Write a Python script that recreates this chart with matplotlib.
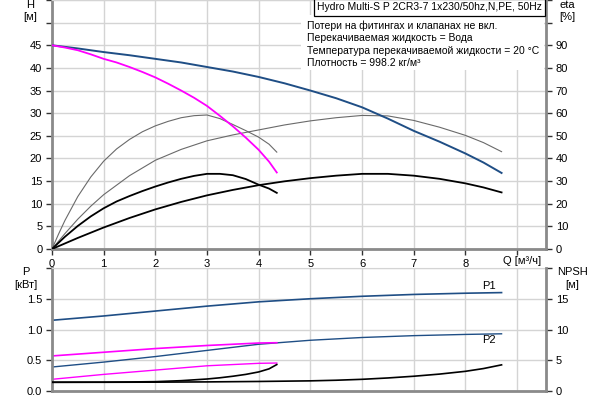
import numpy as np
import matplotlib.pyplot as plt

plt.rcParams['font.family'] = ['Liberation Sans', 'DejaVu Sans']
plt.rcParams['font.size'] = 8

# ---- data ----
# head [m]
q_h_long = [0, 0.5, 1, 1.5, 2, 2.5, 3, 3.5, 4, 4.5, 5, 5.5, 6, 6.5, 7, 7.5, 8, 8.35, 8.7]
h_long = [45, 44.3, 43.5, 42.8, 42.0, 41.2, 40.2, 39.2, 38.0, 36.6, 35.0, 33.3,
          31.3, 28.8, 26.1, 23.7, 21.1, 19.1, 16.8]
q_h_short = [0, 0.25, 0.5, 0.75, 1, 1.25, 1.5, 1.75, 2, 2.25, 2.5, 2.75, 3,
             3.25, 3.5, 3.75, 4, 4.2, 4.35]
h_short = [45, 44.5, 43.9, 43.0, 42.0, 41.2, 40.2, 39.1, 37.9, 36.5, 35.0, 33.4,
           31.6, 29.4, 27.1, 24.6, 21.9, 19.3, 16.9]

# efficiency [%]
q_eta_s = [0, 0.125, 0.25, 0.5, 0.75, 1, 1.25, 1.5, 1.75, 2, 2.25, 2.5, 2.75, 3,
           3.25, 3.5, 3.75, 4, 4.2, 4.35]
eta_short_pump = [0, 6.5, 12.6, 23.2, 31.8, 38.8, 44.2, 48.4, 51.8, 54.4, 56.4,
                  58.0, 58.9, 59.2, 57.6, 55.0, 52.3, 49.4, 46.3, 42.8]
q_eta_l = [0, 0.25, 0.5, 0.75, 1, 1.5, 2, 2.5, 3, 3.5, 4, 4.5, 5, 5.5, 6, 6.5,
           7, 7.5, 8, 8.35, 8.7]
eta_long_pump = [0, 6.8, 13.2, 18.9, 24.0, 32.4, 39.2, 44.0, 47.8, 50.4, 52.6,
                 54.8, 56.6, 58.0, 59.0, 58.8, 56.8, 53.8, 50.2, 47.0, 43.0]
q_eta_st = [0, 0.25, 0.5, 0.75, 1, 1.25, 1.5, 1.75, 2, 2.25, 2.5, 2.75, 3, 3.25,
            3.5, 3.75, 4, 4.2, 4.35]
eta_short_tot = [0, 5.4, 10.2, 14.4, 18.0, 21.0, 23.4, 25.6, 27.6, 29.4, 31.0,
                 32.3, 33.2, 33.2, 32.6, 30.9, 28.4, 26.7, 24.8]
q_eta_lt = [0, 0.5, 1, 1.5, 2, 2.5, 3, 3.5, 4, 4.5, 5, 5.5, 6, 6.5, 7, 7.5, 8,
            8.35, 8.7]
eta_long_tot = [0, 4.9, 9.5, 13.7, 17.5, 20.8, 23.7, 26.1, 28.2, 29.9, 31.3,
                32.4, 33.2, 33.2, 32.4, 31.0, 29.0, 27.2, 25.0]

# power [kW]
q_p = [0, 1, 2, 3, 4, 5, 6, 7, 8, 8.7]
p1_long = [1.15, 1.22, 1.30, 1.38, 1.45, 1.50, 1.54, 1.57, 1.59, 1.60]
p2_long = [0.39, 0.47, 0.56, 0.66, 0.76, 0.825, 0.87, 0.90, 0.92, 0.93]
q_ps = [0, 1, 2, 3, 4, 4.35]
p1_short = [0.57, 0.63, 0.69, 0.74, 0.78, 0.785]
p2_short = [0.19, 0.27, 0.34, 0.41, 0.45, 0.455]

# NPSH [m]
q_npsh_l = [0, 1, 2, 3, 4, 5, 5.5, 6, 6.5, 7, 7.5, 8, 8.35, 8.7]
npsh_long = [1.42, 1.42, 1.44, 1.48, 1.55, 1.65, 1.75, 1.9, 2.12, 2.4, 2.75,
             3.2, 3.65, 4.25]
q_npsh_s = [0, 1, 1.5, 2, 2.5, 3, 3.25, 3.5, 3.75, 4, 4.2, 4.35]
npsh_short = [1.42, 1.44, 1.47, 1.52, 1.68, 1.95, 2.15, 2.4, 2.7, 3.1, 3.6, 4.3]

info_title = 'Hydro Multi-S P 2CR3-7 1x230/50hz,N,PE, 50Hz'
info = ['Потери на фитингах и клапанах не вкл.',
        'Перекачиваемая жидкость = Вода',
        'Температура перекачиваемой жидкости = 20 °C',
        'Плотность = 998.2 кг/м³']

BLUE = '#1f4e85'
MAG = '#ff00ff'
GRID = '#d4d4d4'
SPINE = '#8a8a8a'
XMAX = 9.56

W, H = 600, 400


def fx(px):
    return px / W


def fy(py):
    return 1 - py / H


fig = plt.figure(figsize=(6, 4), dpi=100)
fig.patch.set_facecolor('white')

ax = fig.add_axes([fx(52), fy(249), fx(546) - fx(52), fy(0) - fy(249)])
ax2 = ax.twinx()
bx = fig.add_axes([fx(52), fy(391), fx(546) - fx(52), fy(268) - fy(391)])
bx2 = bx.twinx()


def style(a, a2, yl, yticks, ylabels, yl2, yticks2, ylabels2, xlabels, xtick_len):
    a.set_xlim(0, XMAX)
    a.set_ylim(*yl)
    a2.set_ylim(*yl2)
    a.set_xticks(range(10))
    a.set_xticklabels(xlabels)
    a.set_yticks(yticks)
    a.set_yticklabels(ylabels)
    a2.set_yticks(yticks2)
    a2.set_yticklabels(ylabels2)
    a.grid(True, color=GRID, lw=1.0)
    a.set_axisbelow(True)
    a.tick_params(axis='y', length=4, width=1, color='#333333', pad=3)
    a.tick_params(axis='x', length=xtick_len, width=1, color='#333333', pad=3)
    a2.tick_params(axis='y', length=4, width=1, color='#333333', pad=3)
    for s in ['left', 'bottom']:
        a.spines[s].set_color(SPINE)
        a.spines[s].set_linewidth(2)
    a.spines['top'].set_color(GRID)
    a.spines['right'].set_visible(False)
    for s in ['left', 'bottom', 'top']:
        a2.spines[s].set_visible(False)
    a2.spines['right'].set_color(SPINE)
    a2.spines['right'].set_linewidth(2)


style(ax, ax2, (0, 55), range(0, 56, 5), [str(v) for v in range(0, 46, 5)] + ['', ''],
      (0, 110), range(0, 111, 10), [str(v) for v in range(0, 91, 10)] + ['', ''],
      [str(v) for v in range(9)] + [''], 4)
style(bx, bx2, (0, 2.0), [0, 0.5, 1.0, 1.5, 2.0], ['0.0', '0.5', '1.0', '1.5', ''],
      (0, 20), [0, 5, 10, 15, 20], ['0', '5', '10', '15', ''],
      [''] * 10, 0)
ax.text(9.1, -0.03, 'Q [м³/ч]', transform=ax.get_xaxis_transform(),
        ha='center', va='top')

# top panel curves
ax2.plot(q_eta_s, eta_short_pump, color='#6a6a6a', lw=0.8)
ax2.plot(q_eta_l, eta_long_pump, color='#6a6a6a', lw=0.8)
ax2.plot(q_eta_st, eta_short_tot, color='black', lw=1.3)
ax2.plot(q_eta_lt, eta_long_tot, color='black', lw=1.3)
ax2.plot(q_h_long, [2 * v for v in h_long], color=BLUE, lw=1.4)
ax2.plot(q_h_short, [2 * v for v in h_short], color=MAG, lw=1.3)

# bottom panel curves
bx.plot(q_p, p1_long, color=BLUE, lw=1.2)
bx.plot(q_p, p2_long, color=BLUE, lw=1.0)
bx.plot(q_ps, p1_short, color=MAG, lw=1.2)
bx.plot(q_ps, p2_short, color=MAG, lw=1.0)
bx2.plot(q_npsh_l, npsh_long, color='black', lw=1.2)
bx2.plot(q_npsh_s, npsh_short, color='black', lw=1.2)
bx.text(8.45, 1.71, 'P1', ha='center', va='center', fontsize=8)
bx.text(8.45, 0.83, 'P2', ha='center', va='center', fontsize=8)

# axis titles
fig.text(fx(30.5), fy(5), 'H', ha='center', va='center')
fig.text(fx(30.5), fy(17), '[м]', ha='center', va='center')
fig.text(fx(567), fy(5), 'eta', ha='center', va='center')
fig.text(fx(567), fy(17), '[%]', ha='center', va='center')
fig.text(fx(26), fy(272), 'P', ha='center', va='center')
fig.text(fx(26), fy(285), '[кВт]', ha='center', va='center')
fig.text(fx(572), fy(272), 'NPSH', ha='center', va='center')
fig.text(fx(572), fy(285), '[м]', ha='center', va='center')

# info block
fig.patches.append(plt.Rectangle((fx(301), fy(70)), fx(544) - fx(301), fy(15) - fy(70),
                                 transform=fig.transFigure, facecolor='white',
                                 edgecolor='none', zorder=5))
fig.text(fx(317), fy(7.5), info_title, ha='left', va='center', zorder=6,
         fontsize=7.45,
         bbox=dict(boxstyle='square,pad=0.3', facecolor='white',
                   edgecolor='black', lw=0.9))
for i, line in enumerate(info):
    fig.text(fx(307), fy(26 + 12.4 * i), line, ha='left', va='center', zorder=6,
             fontsize=7.45)

fig.savefig('out.png', dpi=100)
